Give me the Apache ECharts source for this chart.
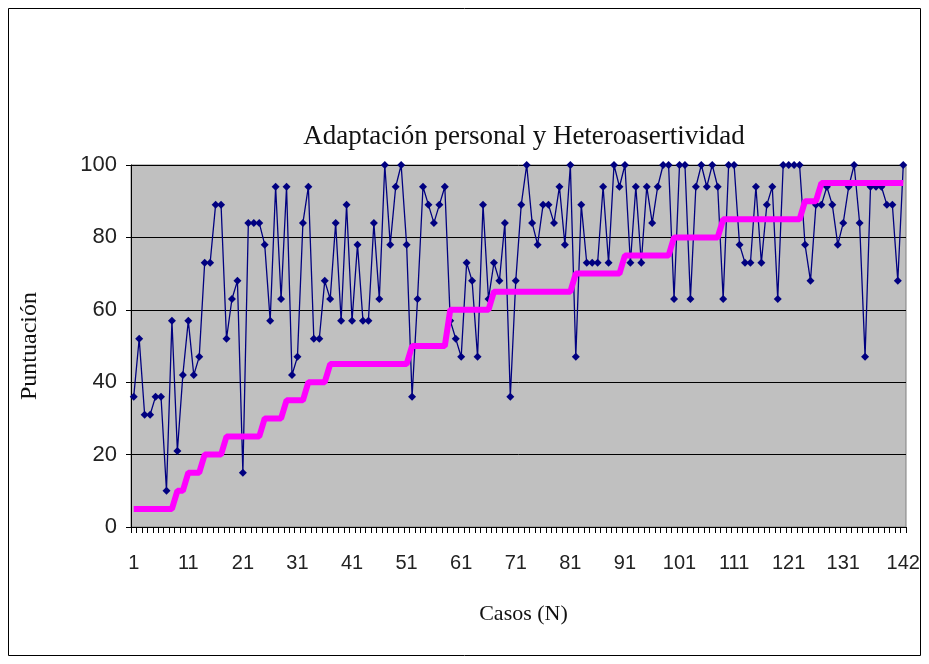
<!DOCTYPE html>
<html>
<head>
<meta charset="utf-8">
<script src="https://cdn.jsdelivr.net/npm/echarts@6/dist/echarts.min.js"></script>
<style>
  html, body { margin: 0; padding: 0; background: #fff; }
  #chart { width: 929px; height: 664px; }
</style>
</head>
<body>
<div id="chart"></div>
<script>
// casos 1..142
var casos = []
for (var n = 1; n <= 142; n++) casos.push(String(n))

// puntuación (linea azul)
var puntuacion = [
  36, 52, 31, 31, 36, 36, 10, 57, 21, 42,
  57, 42, 47, 73, 73, 89, 89, 52, 63, 68,
  15, 84, 84, 84, 78, 57, 94, 63, 94, 42,
  47, 84, 94, 52, 52, 68, 63, 84, 57, 89,
  57, 78, 57, 57, 84, 63, 100, 78, 94, 100,
  78, 36, 63, 94, 89, 84, 89, 94, 57, 52,
  47, 73, 68, 47, 89, 63, 73, 68, 84, 36,
  68, 89, 100, 84, 78, 89, 89, 84, 94, 78,
  100, 47, 89, 73, 73, 73, 94, 73, 100, 94,
  100, 73, 94, 73, 94, 84, 94, 100, 100, 63,
  100, 100, 63, 94, 100, 94, 100, 94, 63, 100,
  100, 78, 73, 73, 94, 73, 89, 94, 63, 100,
  100, 100, 100, 78, 68, 89, 89, 94, 89, 78,
  84, 94, 100, 84, 47, 94, 94, 94, 89, 89,
  68, 100
]

// escalones (linea magenta)
var escalones = [
  5, 5, 5, 5, 5, 5, 5, 5, 10, 10,
  15, 15, 15, 20, 20, 20, 20, 25, 25, 25,
  25, 25, 25, 25, 30, 30, 30, 30, 35, 35,
  35, 35, 40, 40, 40, 40, 45, 45, 45, 45,
  45, 45, 45, 45, 45, 45, 45, 45, 45, 45,
  45, 50, 50, 50, 50, 50, 50, 50, 60, 60,
  60, 60, 60, 60, 60, 60, 65, 65, 65, 65,
  65, 65, 65, 65, 65, 65, 65, 65, 65, 65,
  65, 70, 70, 70, 70, 70, 70, 70, 70, 70,
  75, 75, 75, 75, 75, 75, 75, 75, 75, 80,
  80, 80, 80, 80, 80, 80, 80, 80, 85, 85,
  85, 85, 85, 85, 85, 85, 85, 85, 85, 85,
  85, 85, 85, 90, 90, 90, 95, 95, 95, 95,
  95, 95, 95, 95, 95, 95, 95, 95, 95, 95,
  95, 95
]

var chart = echarts.init(document.getElementById('chart'), null, { renderer: 'canvas' })

chart.setOption({
  animation: false,
  backgroundColor: '#fff',
  title: {
    text: 'Adaptación personal y Heteroasertividad',
    left: 519,
    top: 118,
    textAlign: 'center',
    textStyle: {
      fontFamily: 'Liberation Serif',
      fontSize: 27,
      fontWeight: 'normal',
      color: '#111'
    }
  },
  graphic: [{
    type: 'rect',
    shape: { x: 8.5, y: 8.5, width: 912, height: 647 },
    style: { fill: 'none', stroke: '#000', lineWidth: 1 },
    silent: true
  }],
  grid: {
    left: 131,
    top: 165,
    right: 23,
    bottom: 137,
    show: true,
    backgroundColor: '#c0c0c0',
    borderColor: '#808080',
    borderWidth: 1
  },
  xAxis: {
    type: 'category',
    data: casos,
    boundaryGap: true,
    name: 'Casos (N)',
    nameLocation: 'middle',
    nameGap: 76,
    nameTextStyle: { fontFamily: 'Liberation Serif', fontSize: 22, color: '#111', padding: [0, 0, 0, 10] },
    axisLine: { lineStyle: { color: '#000', width: 1 } },
    axisTick: { show: true, interval: 0, length: 6, lineStyle: { color: '#000' } },
    axisLabel: {
      interval: function (i) { return (i % 10 === 0 && i < 140) || i === 141 },
      margin: 26,
      fontFamily: 'Liberation Sans',
      fontSize: 20,
      color: '#222'
    },
    splitLine: { show: false }
  },
  yAxis: {
    type: 'value',
    min: 0,
    max: 100,
    interval: 20,
    name: 'Puntuación',
    nameLocation: 'middle',
    nameGap: 89,
    nameRotate: 90,
    nameTextStyle: { fontFamily: 'Liberation Serif', fontSize: 24, color: '#111' },
    axisLine: { show: true, lineStyle: { color: '#000', width: 1 } },
    axisTick: { show: true, length: 5, lineStyle: { color: '#000' } },
    axisLabel: {
      margin: 14,
      fontFamily: 'Liberation Sans',
      fontSize: 22,
      color: '#222'
    },
    splitLine: { show: true, lineStyle: { color: '#000', width: 1 } }
  },
  series: [{
    name: 'Puntuación',
    type: 'line',
    data: puntuacion,
    symbol: 'diamond',
    symbolSize: 8,
    showAllSymbol: true,
    lineStyle: { color: '#000080', width: 1.3 },
    itemStyle: { color: '#000080' },
    z: 2
  }, {
    name: 'Escalones',
    type: 'line',
    data: escalones,
    symbol: 'none',
    lineStyle: { color: '#ff00ff', width: 6 },
    itemStyle: { color: '#ff00ff' },
    z: 3
  }]
})
</script>
</body>
</html>
